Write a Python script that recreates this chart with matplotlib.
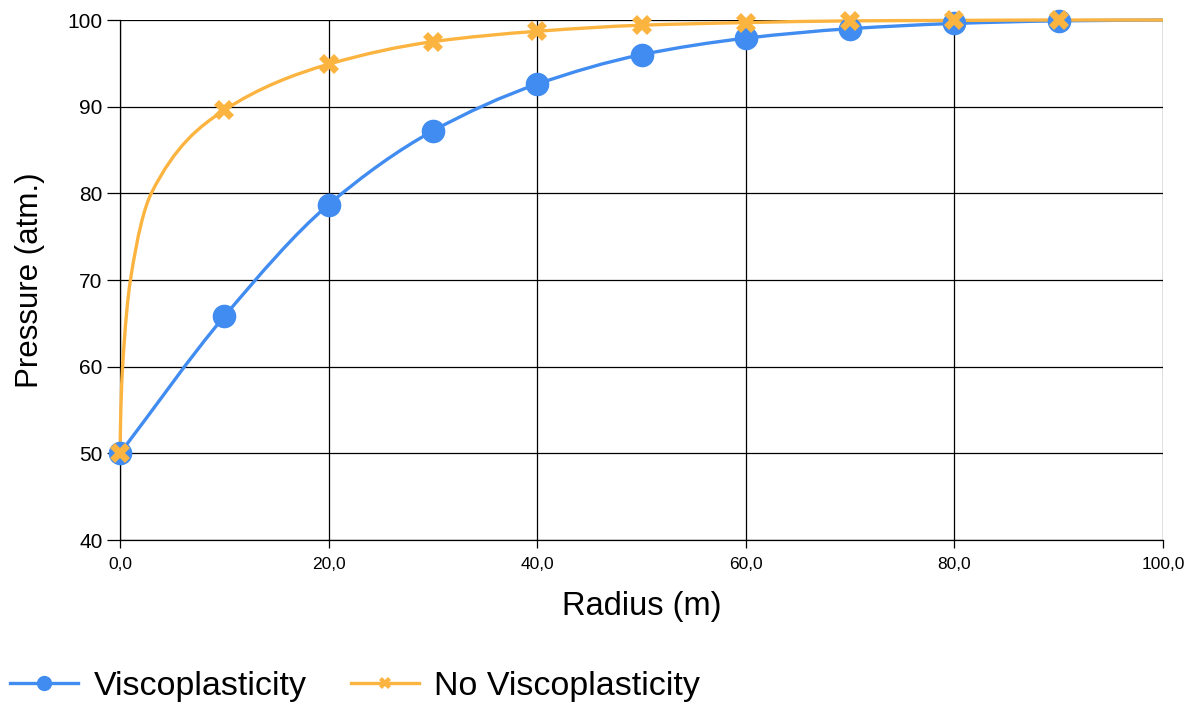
import numpy as np
import matplotlib
matplotlib.use("Agg")
import matplotlib.pyplot as plt
from matplotlib.path import Path
from matplotlib.patches import PathPatch
from matplotlib.lines import Line2D

# ---- data ----
radius = [0, 10, 20, 30, 40, 50, 60, 70, 80, 90]
visco = [50.0, 65.8, 78.7, 87.2, 92.6, 96.0, 97.9, 99.0, 99.6, 99.9]
novisco = [50.0, 89.6, 94.9, 97.5, 98.7, 99.4, 99.7, 99.9, 99.95, 100.0]

# points the drawn curves pass through (incl. the steep start and the end at 100)
visco_curve_x = [0, 10, 20, 30, 40, 50, 60, 70, 80, 90, 100]
visco_curve_y = [50.0, 65.8, 78.7, 87.2, 92.6, 96.0, 97.9, 99.0, 99.6, 99.9, 100.0]
novisco_curve_x = [0, 0.08, 0.25, 1, 3, 10, 20, 30, 40, 50, 60, 70, 80, 90, 100]
novisco_curve_y = [50.0, 55.0, 60.0, 70.0, 80.0, 89.6, 94.9, 97.5, 98.7, 99.4, 99.7, 99.9, 99.95, 100.0, 100.0]

x_ticks = [0, 20, 40, 60, 80, 100]
x_tick_labels = ["0,0", "20,0", "40,0", "60,0", "80,0", "100,0"]
y_ticks = [40, 50, 60, 70, 80, 90, 100]

BLUE = "#418CF0"
ORANGE = "#FCB441"


def smooth_path(xs, ys):
    """Monotone cubic (Fritsch-Carlson) rendered as Bezier segments."""
    x = np.asarray(xs, float)
    y = np.asarray(ys, float)
    h = np.diff(x)
    d = np.diff(y) / h
    n = len(x)
    m = np.zeros(n)
    m[0] = d[0]
    m[-1] = d[-1]
    for i in range(1, n - 1):
        if d[i - 1] * d[i] <= 0:
            m[i] = 0
        else:
            w1 = 2 * h[i] + h[i - 1]
            w2 = h[i] + 2 * h[i - 1]
            m[i] = (w1 + w2) / (w1 / d[i - 1] + w2 / d[i])
    verts = [(x[0], y[0])]
    codes = [Path.MOVETO]
    for i in range(n - 1):
        verts += [(x[i] + h[i] / 3, y[i] + m[i] * h[i] / 3),
                  (x[i + 1] - h[i] / 3, y[i + 1] - m[i + 1] * h[i] / 3),
                  (x[i + 1], y[i + 1])]
        codes += [Path.CURVE4] * 3
    return Path(verts, codes)


fig = plt.figure(figsize=(11.97, 7.03), dpi=100)
ax = fig.add_axes([120 / 1197, 1 - 540 / 703, (1163 - 120) / 1197, (540 - 20) / 703])

ax.set_xlim(0, 100)
ax.set_ylim(40, 100)

ax.grid(True, color="black", linewidth=0.9, zorder=0)
ax.set_axisbelow(True)
for s in ["top", "right"]:
    ax.spines[s].set_visible(False)
for s in ["left", "bottom"]:
    ax.spines[s].set_linewidth(0.9)

ax.add_patch(PathPatch(smooth_path(visco_curve_x, visco_curve_y), facecolor="none",
                       edgecolor=BLUE, linewidth=2.4, zorder=3, clip_on=False))
ax.add_patch(PathPatch(smooth_path(novisco_curve_x, novisco_curve_y), facecolor="none",
                       edgecolor=ORANGE, linewidth=2.4, zorder=4, clip_on=False))
ax.plot(radius, visco, linestyle="none", marker="o", markersize=16, color=BLUE,
        zorder=5, clip_on=False)
ax.plot(radius, novisco, linestyle="none", marker="X", markersize=15, color=ORANGE,
        markeredgewidth=0, zorder=6, clip_on=False)

ax.set_xticks(x_ticks)
ax.set_xticklabels(x_tick_labels, family=["Liberation Sans Narrow", "Liberation Sans"], fontsize=12.5)
ax.set_yticks(y_ticks)
ax.set_yticklabels([str(v) for v in y_ticks], family="Liberation Sans", fontsize=15)
ax.tick_params(axis="y", direction="out", length=9.5, width=0.9, colors="black", pad=3)
ax.tick_params(axis="x", direction="out", length=6, width=0.9, colors="black", pad=6)

ax.set_xlabel("Radius (m)", family="Liberation Sans", fontsize=23.5, labelpad=14)
ax.set_ylabel("Pressure (atm.)", family="Liberation Sans", fontsize=22.5, labelpad=16)

handles = [
    Line2D([], [], color=BLUE, linewidth=2.4, marker="o", markersize=10),
    Line2D([], [], color=ORANGE, linewidth=2.4, marker="X", markersize=9, markeredgewidth=0),
]
fig.legend(handles, ["Viscoplasticity", "No Viscoplasticity"], loc="center left",
           bbox_to_anchor=(0.0, 1 - 686 / 703), ncol=2, frameon=False,
           prop={"family": "Liberation Sans", "size": 24.5}, numpoints=1,
           handlelength=2.0, handletextpad=0.45, columnspacing=1.3, borderaxespad=0.0,
           borderpad=0.3)

fig.savefig("out.png", dpi=100)
